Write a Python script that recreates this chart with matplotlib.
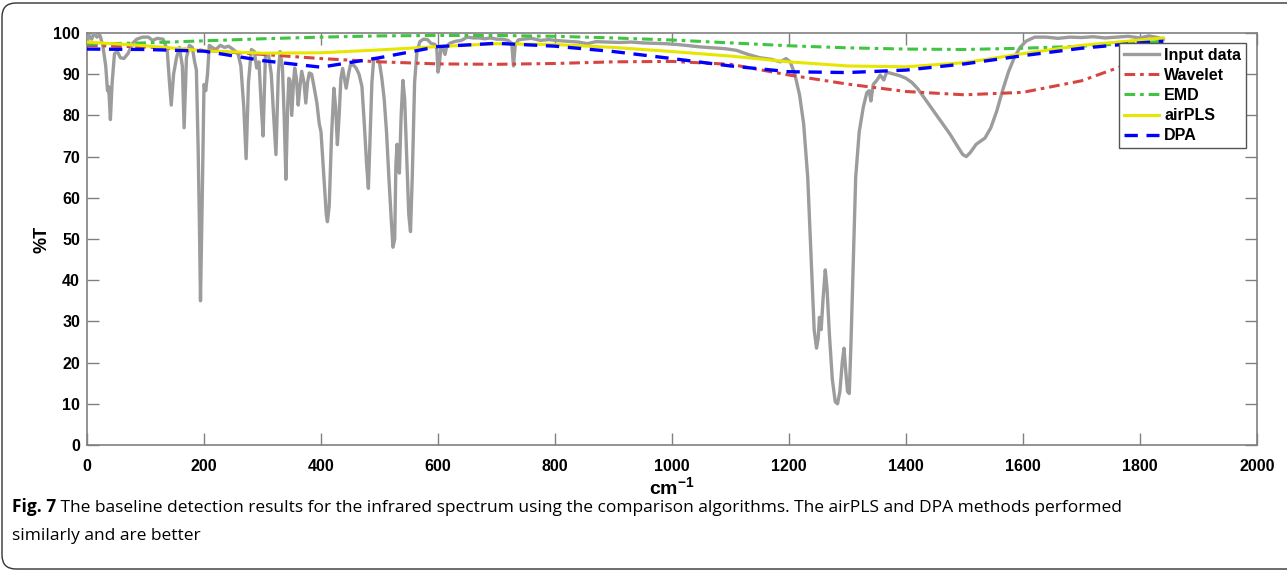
import matplotlib
matplotlib.use("Agg")
import matplotlib.pyplot as plt
from matplotlib.patches import FancyBboxPatch
import numpy as np

# infrared spectrum, wavenumber / %T
wn = [0, 3, 8, 12, 17, 22, 27, 32, 35, 37, 40, 43, 47, 52, 57, 63, 70, 78, 85, 95,
      105, 112, 120, 130, 137, 141, 144, 148, 153, 158, 163, 166, 170, 175, 180, 184,
      187, 190, 192, 194, 197, 200, 203, 206, 209, 214, 220, 228, 235, 242, 250, 258,
      263, 268, 272, 276, 281, 286, 290, 294, 298, 301, 305, 310, 315, 319, 323, 327,
      330, 334, 337, 340, 343, 345, 347, 350, 353, 355, 358, 361, 364, 367, 371, 374,
      377, 380, 384, 388, 393, 397, 400, 405, 409, 411, 414, 418, 422, 425, 428, 431,
      434, 437, 440, 443, 447, 450, 455, 460, 465, 470, 474, 478, 481, 484, 487, 490,
      495, 500, 504, 508, 512, 516, 520, 523, 526, 528, 530, 532, 534, 537, 540, 543,
      547, 550, 553, 556, 560, 564, 569, 575, 582, 588, 595, 598, 600, 602, 605, 609,
      612, 615, 620, 630, 640, 650, 660, 670, 680, 690, 700, 710, 720, 726, 729, 732,
      737, 745, 760, 775, 790, 800, 820, 840, 855, 870, 890, 910, 930, 950, 970, 990,
      1010, 1030, 1050, 1070, 1090, 1110, 1130, 1150, 1170, 1185, 1195, 1202, 1210,
      1218, 1225, 1232, 1238, 1243, 1247, 1250, 1252, 1255, 1258, 1262, 1265, 1269,
      1274, 1279, 1283, 1287, 1291, 1294, 1297, 1300, 1303, 1306, 1310, 1314, 1320,
      1327, 1333, 1337, 1340, 1344, 1350, 1356, 1362, 1367, 1372, 1380, 1390, 1400,
      1410, 1420, 1430, 1445, 1460, 1475, 1488, 1497, 1503, 1510, 1520, 1535, 1545,
      1555, 1565, 1575, 1585, 1595, 1605, 1620, 1640, 1660, 1680, 1700, 1720, 1740,
      1760, 1780, 1800, 1815, 1830, 1840]
trans = [97.5, 99.5, 98.5, 100, 99, 99.5, 97, 92, 86, 87, 79, 88, 95, 95.5, 94, 93.8, 95, 97.5, 98.5, 99,
         99, 98.2, 98.7, 98.5, 96, 88, 82.5, 90, 94, 96.5, 92, 77, 94, 97, 96.5, 93,
         91, 72, 55, 35, 60, 87.5, 86, 90, 97, 96.5, 96, 97, 96.5, 96.8, 96, 95,
         92, 82, 69.5, 88, 96, 95.5, 91.5, 93, 82, 75, 94.5, 95, 90, 80, 70.5, 90,
         95.5, 92, 80, 64.5, 82, 89, 88.5, 80, 88, 91.5, 89, 82.5, 87, 90.7, 88, 83,
         88, 90.3, 90, 87, 83, 78, 76, 65, 56, 54.2, 58, 75, 86.6, 82, 72.9, 80,
         89, 91.4, 89, 86.6, 90, 92.1, 92.3, 91.5, 90, 87, 78, 68, 62.3, 75, 88, 93.5,
         93.8, 92.8, 89, 84, 76, 65, 55, 48, 50, 68, 73, 70, 66, 80, 88.5, 84,
         68, 56, 51.8, 65, 88, 95.5, 97.9, 98.5, 98.4, 97.5, 97.2, 96, 90.5, 92, 96.5, 96,
         94.8, 96.8, 97.5, 98, 98.2, 99, 98.8, 98.8, 98.6, 98.8, 98.5, 98.5, 98.2, 97.5, 92, 97,
         98.3, 98.5, 98.7, 98.2, 98.4, 98.2, 98, 97.8, 97.4, 97.9, 97.8, 97.7, 97.8, 97.6, 97.5, 97.4,
         97.2, 96.9, 96.6, 96.4, 96.2, 95.8, 94.8, 94, 93.6, 93, 93.8, 93, 90,
         85, 78, 65, 45, 28, 23.5, 26, 31, 28, 35, 42.5, 38, 27,
         16, 10.5, 10, 13, 20, 23.5, 18, 13, 12.5, 25, 45, 65, 76,
         82, 85.5, 86, 83.5, 87.5, 88.5, 89.8, 88.6, 90.5, 90.3, 90, 89.6, 89,
         88, 86.5, 84.5, 81.5, 78.5, 75.5, 72.5, 70.5, 70, 71, 73, 74.5, 77,
         81, 86, 90.5, 94, 96.5, 98, 99, 99, 98.7, 99, 98.9, 99.1, 98.8,
         99, 99.2, 98.8, 99.3, 98.9, 98.5]

# baselines estimated by each algorithm
wn_base = [0, 100, 200, 300, 400, 500, 600, 700, 800, 900, 1000, 1100, 1200,
           1300, 1400, 1500, 1600, 1700, 1800, 1840]
wavelet = [97.0, 96.6, 95.8, 94.8, 93.8, 93.0, 92.5, 92.4, 92.6, 93.0, 93.1, 92.4, 89.8,
           87.6, 85.8, 85.0, 85.6, 88.4, 93.5, 96.8]
emd = [97.3, 97.6, 98.1, 98.6, 99.0, 99.3, 99.4, 99.4, 99.2, 98.8, 98.3, 97.6, 96.9,
       96.4, 96.1, 96.0, 96.3, 96.8, 97.6, 98.0]
airpls = [97.8, 96.9, 95.7, 95.1, 95.2, 95.9, 96.7, 97.4, 97.2, 96.5, 95.5, 94.4, 93.0,
          92.0, 91.8, 92.8, 95.0, 97.0, 98.3, 98.8]
dpa = [96.1, 96.0, 95.6, 93.3, 91.7, 94.0, 96.7, 97.5, 96.8, 95.5, 93.8, 92.0, 90.6,
       90.4, 91.0, 92.5, 94.5, 96.3, 97.6, 98.0]

caption = ('The baseline detection results for the infrared spectrum using the comparison '
           'algorithms. The airPLS and DPA methods performed')
caption2 = 'similarly and are better'

plt.rcParams['font.family'] = ['Liberation Sans', 'DejaVu Sans']
plt.rcParams['mathtext.fontset'] = 'custom'
plt.rcParams['mathtext.bf'] = 'Liberation Sans:bold'
plt.rcParams['mathtext.rm'] = 'Liberation Sans:bold'

fig = plt.figure(figsize=(12.87, 5.71), dpi=100)
ax = fig.add_axes([87 / 1287, 1 - 445 / 571, 1170 / 1287, 412 / 571])

ax.plot(wn, trans, color='#9c9c9c', lw=2.4, label='Input data', zorder=3)
ax.plot(wn_base, wavelet, color='#d64541', lw=2.2, ls=(0, (3.5, 1.6, 1.2, 1.6)), label='Wavelet', zorder=4)
ax.plot(wn_base, emd, color='#3fc53f', lw=2.2, ls=(0, (3.5, 1.6, 1.2, 1.6)), label='EMD', zorder=4)
ax.plot(wn_base, airpls, color='#e6e600', lw=2.2, label='airPLS', zorder=4)
ax.plot(wn_base, dpa, color='#0000ff', lw=2.4, ls=(0, (4, 2.6)), label='DPA', zorder=5)

ax.set_xlim(0, 2000)
ax.set_ylim(0, 100)
ax.set_xticks(np.arange(0, 2001, 200))
ax.set_yticks(np.arange(0, 101, 10))
ax.tick_params(direction='in', length=8.5, width=1, color='#808080',
               top=True, right=True, labelsize=11.5, pad=5)
ax.tick_params(axis='x', pad=10)
for lab in ax.get_xticklabels() + ax.get_yticklabels():
    lab.set_fontweight('bold')
for s in ax.spines.values():
    s.set_color('#808080')
    s.set_linewidth(1.2)

ax.set_ylabel('%T', fontsize=13, fontweight='bold', labelpad=2)
ax.set_xlabel(r'$\mathbf{cm^{-1}}$', fontsize=14, labelpad=2)

leg = ax.legend(loc='upper right', bbox_to_anchor=(1246 / 1287, 1 - 43 / 571),
                bbox_transform=fig.transFigure, prop={'weight': 'bold', 'size': 11.5},
                handlelength=2.2, handletextpad=0.3, borderpad=0.3, labelspacing=0.32,
                borderaxespad=0, fancybox=False, framealpha=1)
leg.get_frame().set_edgecolor('#555555')
leg.get_frame().set_linewidth(1.0)

# caption
cap_font = ['Open Sans', 'DejaVu Sans']
t1 = fig.text(12 / 1287, 1 - 512 / 571, 'Fig. 7', fontsize=12.5, fontweight='bold',
              family=cap_font, va='baseline')
fig.add_artist(plt.Annotation(' ' + caption, xy=(1, 0), xycoords=t1, fontsize=12.5,
                              family=cap_font, va='bottom', annotation_clip=False))
fig.text(12 / 1287, 1 - 540 / 571, caption2, fontsize=12.5, family=cap_font, va='baseline')

# outer rounded frame
frame = FancyBboxPatch((2, 2), 1320, 566, boxstyle='round,pad=0,rounding_size=14',
                       transform=None, fill=False, edgecolor='#333333', lw=1.0)
fig.add_artist(frame)

fig.savefig('out.png', dpi=100)
